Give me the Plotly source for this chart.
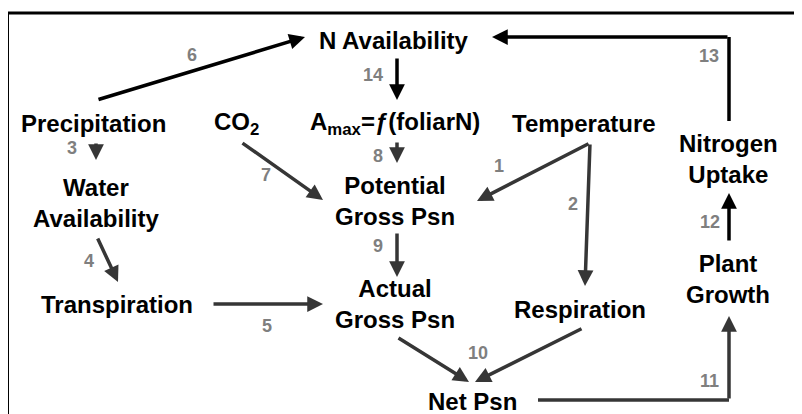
import plotly.graph_objects as go

# ---- diagram content ----
node_labels = [
    "N Availability",
    "Precipitation",
    "CO<sub>2</sub>",
    "A<sub>max</sub>=ƒ(foliarN)",
    "Temperature",
    "Water<br>Availability",
    "Potential<br>Gross Psn",
    "Nitrogen<br>Uptake",
    "Transpiration",
    "Actual<br>Gross Psn",
    "Respiration",
    "Plant<br>Growth",
    "Net Psn",
]
node_x = [394, 93, 236, 395, 584, 96, 395, 728, 117, 395, 580, 728, 472]
node_y = [40, 123, 123, 123, 123, 203, 201, 159, 304, 304, 309, 279, 401]

edge_labels = ["1", "2", "3", "4", "5", "6", "7", "8", "9", "10", "11", "12", "13", "14"]
edge_label_x = [499, 573, 72, 89, 267, 192, 266, 378, 378, 478, 709, 710, 709, 373]
edge_label_y = [166, 204, 148, 261, 326, 55, 175, 156, 246, 353, 381, 222, 56, 75]

# arrows: tail (x0,y0) -> tip (x1,y1), colour
arrow_x0 = [590, 590, 96, 97, 212, 97, 241, 397, 397, 397, 729, 729, 729, 397]
arrow_y0 = [143, 143, 142, 237, 304, 100, 142, 141, 232, 337, 400, 242, 37, 57]
arrow_x1 = [477, 585, 96, 118, 323, 305, 323, 397, 397, 469, 729, 729, 492, 397]
arrow_y1 = [201, 286, 160, 282, 304, 37, 200, 163, 277, 382, 316, 193, 37, 100]
arrow_dark = [False, False, False, False, False, True, False, False, False, False, False, True, True, True]
# second arrow into Net Psn (from Respiration)
extra_x0, extra_y0, extra_x1, extra_y1 = [583], [328], [475], [382]
# elbow segments (arrow 11: from Net Psn; arrow 13: from Nitrogen Uptake)
elbow_x = [[538, 729], [729, 729]]
elbow_y = [[400, 400], [121, 37]]
elbow_dark = [False, True]

DARK = "#000000"
GREY = "#363636"
NUMC = "#7f7f7f"
FONT = "Arial, Liberation Sans, sans-serif"
PAGE_OFF = 8  # default page margin of the html body

fig = go.Figure()

for xs, ys, dk in zip(elbow_x, elbow_y, elbow_dark):
    fig.add_trace(go.Scatter(x=xs, y=ys, mode="lines",
                             line=dict(color=DARK if dk else GREY, width=3.5),
                             hoverinfo="skip", showlegend=False))

annotations = []
all_x0 = arrow_x0 + extra_x0
all_y0 = arrow_y0 + extra_y0
all_x1 = arrow_x1 + extra_x1
all_y1 = arrow_y1 + extra_y1
all_dark = arrow_dark + [False]
for x0, y0, x1, y1, dk in zip(all_x0, all_y0, all_x1, all_y1, all_dark):
    annotations.append(dict(
        x=x1, y=y1, ax=x0, ay=y0, xref="x", yref="y", axref="x", ayref="y",
        text="", showarrow=True, arrowhead=2, arrowsize=0.9, arrowwidth=3.5,
        arrowcolor=DARK if dk else GREY, standoff=0, startstandoff=0,
    ))

for lab, x, y in zip(node_labels, node_x, node_y):
    annotations.append(dict(
        x=x, y=y, xref="x", yref="y", text=lab, showarrow=False,
        xanchor="center", yanchor="middle",
        font=dict(family=FONT, size=24, color="#000000", weight="bold"),
    ))

for lab, x, y in zip(edge_labels, edge_label_x, edge_label_y):
    annotations.append(dict(
        x=x, y=y, xref="x", yref="y", text=lab, showarrow=False,
        xanchor="center", yanchor="middle",
        font=dict(family=FONT, size=18, color=NUMC, weight="bold"),
    ))

shapes = [
    dict(type="line", x0=6, x1=820, y0=13, y1=13, xref="x", yref="y",
         line=dict(color="#000000", width=3)),
    dict(type="line", x0=7.5, x1=7.5, y0=12, y1=430, xref="x", yref="y",
         line=dict(color="#000000", width=3)),
]

fig.update_layout(
    width=802, height=414,
    margin=dict(l=0, r=0, t=0, b=0),
    paper_bgcolor="white", plot_bgcolor="white",
    xaxis=dict(range=[PAGE_OFF, 802 + PAGE_OFF], visible=False, fixedrange=True),
    yaxis=dict(range=[414 + PAGE_OFF, PAGE_OFF], visible=False, fixedrange=True),
    annotations=annotations, shapes=shapes, showlegend=False,
)

fig.write_html("out.html")
